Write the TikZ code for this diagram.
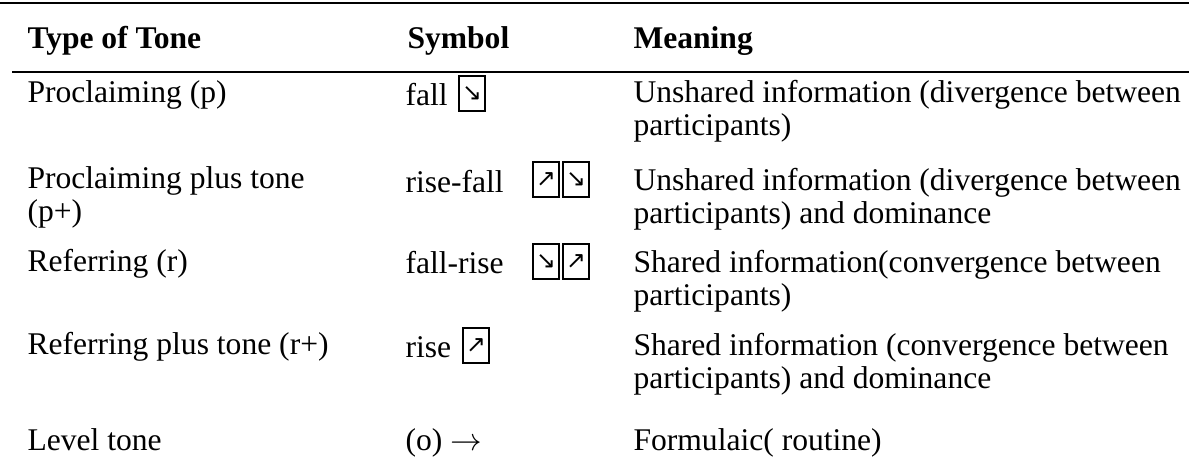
\documentclass[tikz,border=0pt]{standalone}
\usepackage{fontspec}
\setmainfont{Liberation Serif}
\newfontfamily\arrowfont{DejaVu Sans}
\tikzstyle{cell}=[anchor=base west,inner sep=0pt,align=left,
  font=\fontsize{12}{12.5}\selectfont]
\tikzstyle{head}=[cell,font=\fontsize{12}{12.5}\selectfont\bfseries]
\tikzstyle{pitch}=[draw=black,line width=0.8pt,anchor=south west,inner sep=0pt,
  minimum width=9.8pt,minimum height=13.2pt,font=\arrowfont\fontsize{9}{9}\selectfont]
\tikzstyle{rule}=[line width=1pt]
\tikzstyle{none}=[inner sep=0pt]
\begin{document}
\begin{tikzpicture}[x=0.38pt,y=-0.38pt]
    \useasboundingbox (0,0) rectangle (1189,469);
            \node [style=none] (r1l) at (0,3) {};
            \node [style=none] (r1r) at (1189,3) {};
            \node [style=none] (r2l) at (12,72) {};
            \node [style=none] (r2r) at (1189,72) {};
            \draw [style=rule] (r1l.center) to (r1r.center);
            \draw [style=rule] (r2l.center) to (r2r.center);
            % header
            \node [style=head] (htype) at (27,48) {Type of Tone};
            \node [style=head] (hsym) at (407,48) {Symbol};
            \node [style=head] (hmean) at (633,48) {Meaning};
            % proclaiming (base = last line)
            \node [style=cell] (tp) at (27,102) {Proclaiming (p)};
            \node [style=cell] (sp) at (405,105) {fall};
            \node [style=pitch] (bp) at (458,112) {↘};
            \node [style=cell] (mp) at (633,135) {Unshared information (divergence between\\participants)};
            % proclaiming plus
            \node [style=cell] (tpp) at (27,221) {Proclaiming plus tone\\(p+)};
            \node [style=cell] (spp) at (405,192) {rise-fall};
            \node [style=pitch] (bpp1) at (532,198) {↗};
            \node [style=pitch] (bpp2) at (562,198) {↘};
            \node [style=cell] (mpp) at (633,223) {Unshared information (divergence between\\participants) and dominance};
            % referring
            \node [style=cell] (tr) at (27,271) {Referring (r)};
            \node [style=cell] (sr) at (405,273) {fall-rise};
            \node [style=pitch] (br1) at (532,280) {↘};
            \node [style=pitch] (br2) at (562,280) {↗};
            \node [style=cell] (mr) at (633,305) {Shared information(convergence between\\participants)};
            % referring plus
            \node [style=cell] (trp) at (27,354) {Referring plus tone (r+)};
            \node [style=cell] (srp) at (405,357) {rise};
            \node [style=pitch] (brp) at (462,364) {↗};
            \node [style=cell] (mrp) at (633,388) {Shared information (convergence between\\participants) and dominance};
            % level
            \node [style=cell] (tl) at (27,450) {Level tone};
            \node [style=cell] (sl) at (405,450) {(o) $\rightarrow$};
            \node [style=cell] (ml) at (633,450) {Formulaic( routine)};
    \end{tikzpicture}
\end{document}
